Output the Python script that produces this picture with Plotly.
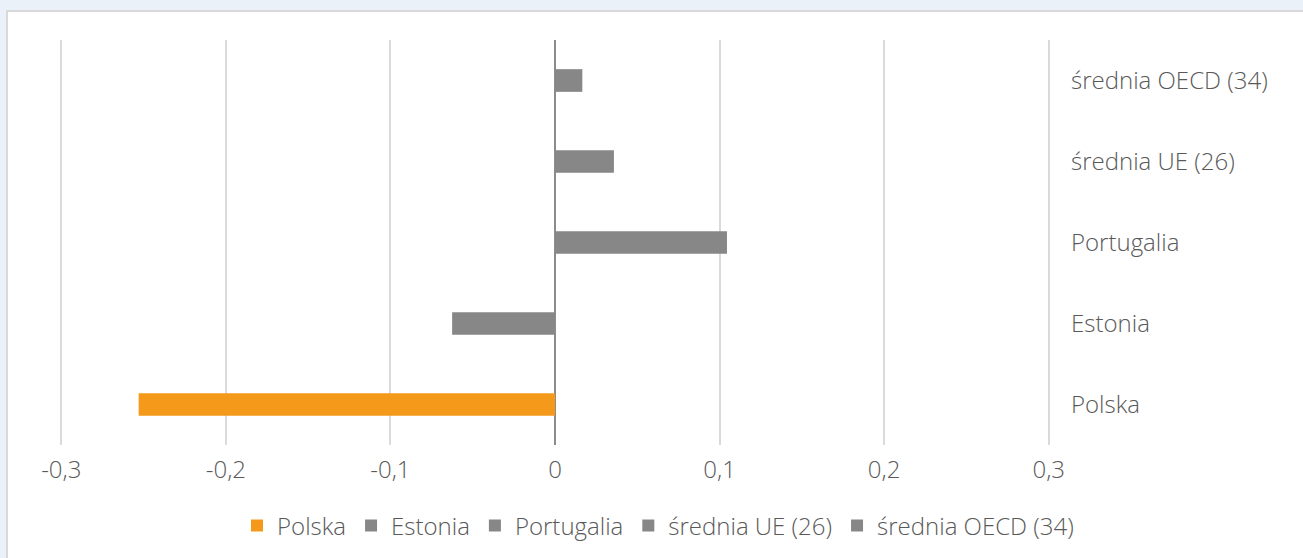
import plotly.graph_objects as go

# categories from bottom to top, one series per category (as in the source chart)
categories = ["Polska", "Estonia", "Portugalia", "średnia UE (26)", "średnia OECD (34)"]
values = [-0.253, -0.0625, 0.1045, 0.0358, 0.0166]
colors = ["#f4991a", "#878787", "#878787", "#878787", "#878787"]
xticks = [-0.3, -0.2, -0.1, 0, 0.1, 0.2, 0.3]
xticktext = ["-0,3", "-0,2", "-0,1", "0", "0,1", "0,2", "0,3"]

W, H = 1303, 558
L, R, T, B = 58, 1303 - 1052, 40, 558 - 445
pw, ph = W - L - R, H - T - B

fig = go.Figure()
for name, v, c in zip(categories, values, colors):
    fig.add_trace(go.Bar(
        y=[name], x=[v], name=name, orientation="h",
        marker=dict(color=c, line=dict(width=0)),
        width=0.28,
    ))

# outer frame (light blue page + white box with grey border)
fig.add_shape(type="rect", xref="paper", yref="paper",
              x0=(7 - L) / pw, x1=(W + 5 - L) / pw,
              y0=-(B + 5) / ph, y1=(H - 11 - B) / ph,
              fillcolor="white", line=dict(color="#d9d9d9", width=2), layer="below")

fig.update_layout(
    width=W, height=H,
    margin=dict(l=L, r=R, t=T, b=B),
    paper_bgcolor="#eaf1f9",
    plot_bgcolor="white",
    barmode="overlay",
    separators=", ",
    font=dict(family="Open Sans", size=24, color="#595959", weight=300),
    showlegend=True,
    legend=dict(orientation="h", x=0.505, xref="container", xanchor="center",
                y=32 / H, yref="container", yanchor="middle",
                bgcolor="rgba(0,0,0,0)", itemwidth=30,
                font=dict(size=24, color="#595959", weight=300),
                traceorder="normal"),
)
fig.update_xaxes(range=[-0.302, 0.302], tickvals=xticks, ticktext=xticktext,
                 showgrid=True, gridcolor="#dadada", gridwidth=1.5,
                 zeroline=True, zerolinecolor="#8c8c8c", zerolinewidth=1.5,
                 showline=False, ticks="", ticklabelstandoff=8, fixedrange=True)
fig.update_yaxes(categoryorder="array", categoryarray=categories,
                 side="right", showgrid=False, zeroline=False, showline=False,
                 ticks="", ticklabelstandoff=18, fixedrange=True)

fig.write_html("out.html", config={"displayModeBar": False},
               post_script="document.body.style.margin='0';")
